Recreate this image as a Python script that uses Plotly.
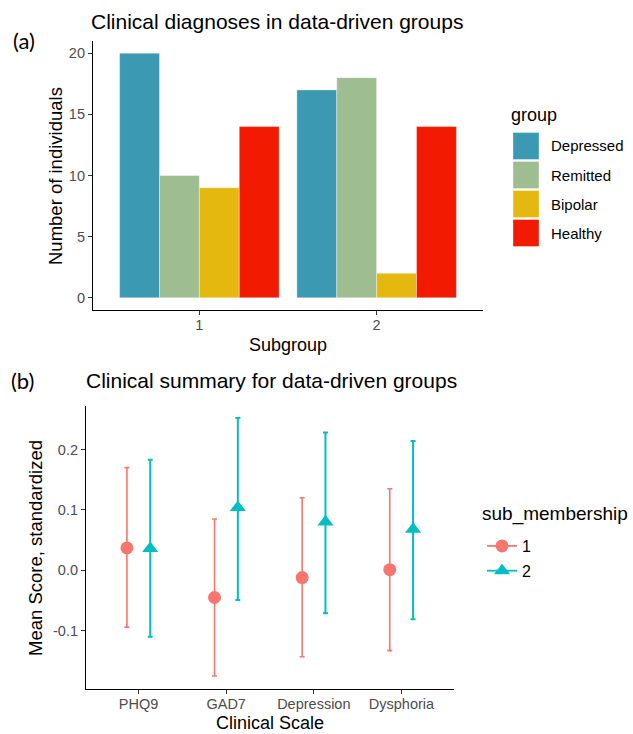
import plotly.graph_objects as go

# ---------------- data ----------------
subgroups = ["1", "2"]
groups = ["Depressed", "Remitted", "Bipolar", "Healthy"]
group_colors = ["#3B9AB2", "#9EBE91", "#E4B80E", "#F21A00"]
counts_depressed = [20, 17]
counts_remitted = [10, 18]
counts_bipolar = [9, 2]
counts_healthy = [14, 14]
counts = [counts_depressed, counts_remitted, counts_bipolar, counts_healthy]

scales = ["PHQ9", "GAD7", "Depression", "Dysphoria"]
memberships = ["1", "2"]
member_colors = ["#F8766D", "#00BFC4"]
member_symbols = ["circle", "triangle-up"]
mean_sub1 = [0.037, -0.045, -0.012, 0.001]
low_sub1 = [-0.094, -0.175, -0.143, -0.133]
high_sub1 = [0.170, 0.085, 0.120, 0.135]
mean_sub2 = [0.036, 0.104, 0.080, 0.068]
low_sub2 = [-0.110, -0.049, -0.071, -0.081]
high_sub2 = [0.183, 0.252, 0.228, 0.214]
means = [mean_sub1, mean_sub2]
lows = [low_sub1, low_sub2]
highs = [high_sub1, high_sub2]
dodge = [-0.133, 0.133]

y_ticks_a = [0, 5, 10, 15, 20]
y_ticks_b = [-0.1, 0.0, 0.1, 0.2]
y_ticktext_b = ["-0.1", "0.0", "0.1", "0.2"]

W, H = 633, 734
FONT = "Liberation Sans, Arial, sans-serif"
TICKC = "#4D4D4D"

def px(x):
    return x / W

def py(y):
    return 1 - y / H

fig = go.Figure()

# ---------------- panel (a): bars ----------------
for g, col, vals in zip(groups, group_colors, counts):
    fig.add_trace(go.Bar(
        x=subgroups, y=vals, name=g, marker_color=col,
        marker_line=dict(color="rgba(255,255,255,0.6)", width=0.6),
        showlegend=False, xaxis="x", yaxis="y",
    ))

# ---------------- panel (b): point ranges ----------------
for k, m in enumerate(memberships):
    xs, ys, ep, em = [], [], [], []
    for i in range(len(scales)):
        if i > 0:
            xs.append(None); ys.append(None); ep.append(None); em.append(None)
        xs.append(i + dodge[k])
        ys.append(means[k][i])
        ep.append(highs[k][i] - means[k][i])
        em.append(means[k][i] - lows[k][i])
    fig.add_trace(go.Scatter(
        x=xs, y=ys, name=m, mode="lines+markers",
        line=dict(color=member_colors[k], width=1.8),
        marker=dict(color=member_colors[k], symbol=member_symbols[k], size=13 if k == 0 else 14),
        error_y=dict(type="data", symmetric=False, array=ep, arrayminus=em,
                     color=member_colors[k], thickness=1.6 if k == 0 else 2.0, width=2.5),
        connectgaps=False, xaxis="x2", yaxis="y2", legend="legend2", showlegend=True,
        legendgroup="m" + m,
    ))

axis_common = dict(
    showline=True, linecolor="black", linewidth=1.2, showgrid=False, zeroline=False,
    ticks="outside", ticklen=4, tickwidth=1, tickcolor="#333333",
    tickfont=dict(family=FONT, size=14.5, color=TICKC),
)

fig.update_layout(
    width=W, height=H, autosize=False,
    margin=dict(l=0, r=0, t=0, b=0),
    paper_bgcolor="white", plot_bgcolor="white",
    barmode="group", bargap=0.1, bargroupgap=0,
    font=dict(family=FONT, color="black"),
    xaxis=dict(domain=[px(93), px(483)], anchor="y", type="category",
               range=[-0.6, 1.6], ticklabelstandoff=-3, **axis_common),
    yaxis=dict(domain=[py(310), py(41)], anchor="x", range=[-1.0, 21.0],
               tickvals=y_ticks_a, **axis_common),
    xaxis2=dict(domain=[px(86), px(454)], anchor="y2", range=[-0.6, 3.6],
                tickvals=list(range(len(scales))), ticktext=scales,
                ticklabelstandoff=-3, **axis_common),
    yaxis2=dict(domain=[py(689), py(405.7)], anchor="x2", range=[-0.1965, 0.2725],
                tickvals=y_ticks_b, ticktext=y_ticktext_b, **axis_common),
    showlegend=True,
    legend2=dict(
        x=px(482), y=py(529), xanchor="left", yanchor="top",
        font=dict(family=FONT, size=16, color="black"),
        bgcolor="rgba(0,0,0,0)", itemwidth=30, tracegroupgap=1,
    ),
)

ann = []
def text(x, y, s, size, xanchor="left", color="black", family=FONT, angle=0):
    ann.append(dict(x=px(x), y=py(y), xref="paper", yref="paper", text=s, showarrow=False,
                    xanchor=xanchor, yanchor="middle", textangle=angle,
                    font=dict(family=family, size=size, color=color)))

text(11, 40, "(a)", 22, family="Lato, Open Sans, sans-serif")
text(89, 21, "Clinical diagnoses in data-driven groups", 21)
text(55, 176, "Number of individuals", 18.5, xanchor="center", angle=-90)
text(288, 345, "Subgroup", 18, xanchor="center")

text(9, 381, "(b)", 22, family="Lato, Open Sans, sans-serif")
text(84, 381, "Clinical summary for data-driven groups", 21)
text(35, 548, "Mean Score, standardized", 18.5, xanchor="center", angle=-90)
text(270, 723, "Clinical Scale", 18, xanchor="center")

# legend titles
text(480, 514, "sub_membership", 19)
text(509, 115, "group", 18)

# manual legend for panel (a)
shapes = []
for j, (g, col) in enumerate(zip(groups, group_colors)):
    top = 132.5 + 29 * j
    shapes.append(dict(type="rect", xref="paper", yref="paper",
                       x0=px(513), x1=px(539), y0=py(top + 27), y1=py(top),
                       fillcolor=col, line=dict(color="rgba(255,255,255,0.6)", width=0.6)))
    text(549, top + 13.5, g, 15)

fig.update_layout(annotations=ann, shapes=shapes)

fig.write_html("out.html")
